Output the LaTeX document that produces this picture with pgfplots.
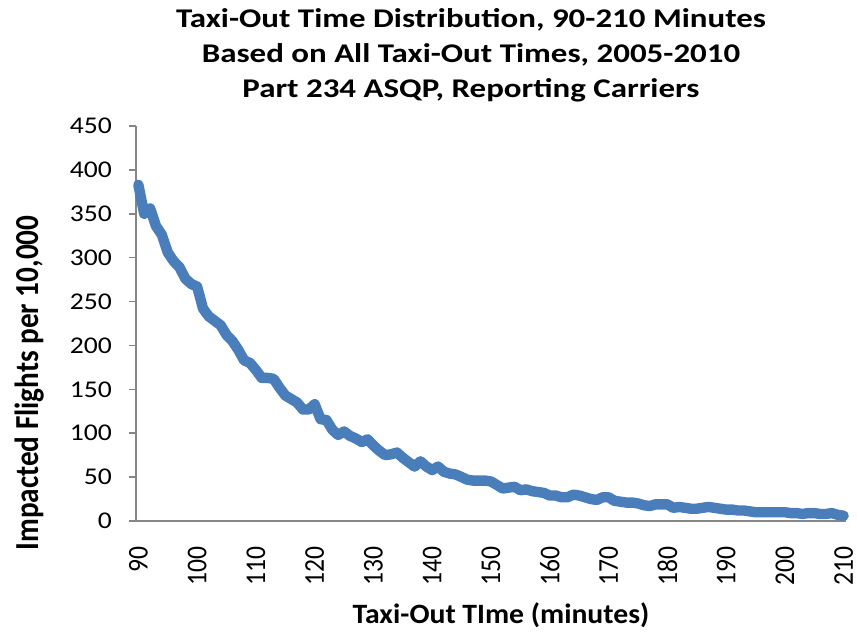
\documentclass[border=0pt]{standalone}
\usepackage{fontspec}
\setmainfont{Carlito}
\newfontfamily\titlefont{Carlito}[FakeStretch=1.22]
\newfontfamily\tickfont{Carlito}[FakeStretch=1.15]
\newfontfamily\xlabfont{Carlito}[FakeStretch=1.06]
\usepackage{pgfplots}
\pgfplotsset{compat=1.18}
\usepackage{pgfplotstable}
\definecolor{serieblue}{RGB}{74,126,187}
\definecolor{axisgray}{RGB}{134,134,134}
\pgfplotstableread{
m v
90 383
91 350
92 356
93 336
94 326
95 306
96 296
97 289
98 276
99 270
100 267
101 242
102 233
103 228
104 223
105 212
106 205
107 195
108 183
109 180
110 172
111 163
112 163
113 162
114 152
115 143
116 139
117 135
118 127
119 127
120 133
121 116
122 115
123 104
124 98
125 102
126 97
127 94
128 90
129 93
130 86
131 80
132 75
133 76
134 78
135 72
136 67
137 62
138 68
139 62
140 58
141 62
142 56
143 54
144 53
145 50
146 47
147 46
148 46
149 46
150 45
151 41
152 37
153 38
154 39
155 35
156 36
157 34
158 33
159 32
160 29
161 29
162 27
163 27
164 30
165 29
166 27
167 25
168 24
169 27
170 27
171 23
172 22
173 21
174 21
175 20
176 18
177 17
178 19
179 19
180 19
181 15
182 16
183 15
184 14
185 14
186 15
187 16
188 15
189 14
190 13
191 13
192 12
193 12
194 11
195 10
196 10
197 10
198 10
199 10
200 10
201 9
202 9
203 8
204 9
205 9
206 8
207 8
208 9
209 7
210 6
}\datatable
\begin{document}
\begin{tikzpicture}
\begin{axis}[
  name=ax,
  scale only axis,
  width=355pt, height=197.5pt,
  xmin=89.6, xmax=210.4,
  ymin=0, ymax=450,
  ytick={0,50,...,450},
  xtick={90,100,...,210},
  axis x line*=bottom,
  axis y line*=left,
  axis line style={draw=axisgray, line width=0.8pt},
  y axis line style={-},
  x axis line style={-},
  every tick/.style={draw=axisgray, line width=0.8pt},
  major tick length=3.5pt,
  tick align=outside,
  xtick style={draw=none},
  ytick pos=left,
  xtick pos=bottom,
  /pgf/number format/assume math mode=true,
  /pgf/number format/1000 sep={},
  yticklabel style={font=\tickfont\fontsize{12}{14}\selectfont, text=black, xshift=-5pt},
  xticklabel style={font=\fontsize{12.8}{14}\selectfont, text=black, rotate=90, anchor=east, inner sep=0.5pt, xshift=-8.8pt},
  xticklabel={\scalebox{1}[1.12]{\pgfmathprintnumber{\tick}}},
  clip=false,
]
\addplot[serieblue, line width=5.2pt, line join=round, line cap=round] table[x=m, y=v] {\datatable};
\end{axis}
\node[font=\titlefont\bfseries\fontsize{13.5}{17.5}\selectfont, align=center] at ([shift={(167.5pt,233pt)}]ax.south west)
  {Taxi-Out Time Distribution, 90-210 Minutes\\Based on All Taxi-Out Times, 2005-2010\\Part 234 ASQP, Reporting Carriers};
\node[font=\bfseries\fontsize{14.6}{16}\selectfont, rotate=90] at ([shift={(-53pt,69pt)}]ax.south west) {\scalebox{1}[1.15]{Impacted Flights per 10,000}};
\node[font=\xlabfont\bfseries\fontsize{14}{16}\selectfont] at ([shift={(182.5pt,-47pt)}]ax.south west) {Taxi-Out TIme (minutes)};
\pgfresetboundingbox
\path[use as bounding box] ([shift={(-68pt,-57pt)}]ax.south west) rectangle ([shift={(360.5pt,260.5pt)}]ax.south west);
\end{tikzpicture}
\end{document}
